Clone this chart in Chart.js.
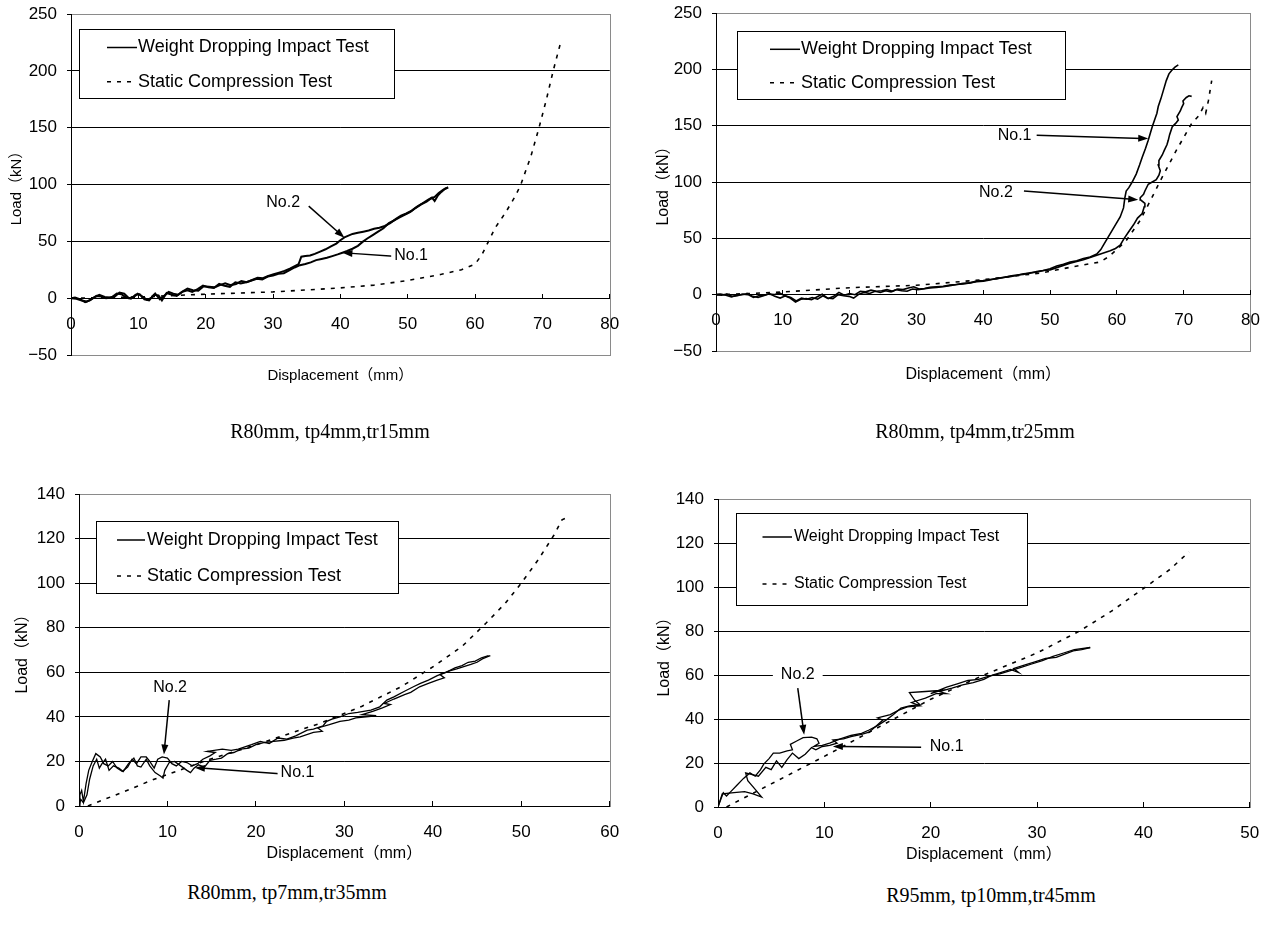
<!DOCTYPE html>
<html>
<head>
<meta charset="utf-8">
<script src="https://cdn.jsdelivr.net/npm/chart.js@4"></script>
<style>
  body { margin: 0; background: #fff; width: 1280px; height: 927px; position: relative; overflow: hidden; }
  .box { position: absolute; }
  .cap { position: absolute; font: 20px 'Liberation Serif', serif; color: #000; transform: translate(-50%, -50%); white-space: nowrap; }
</style>
</head>
<body>
<div class="box" style="left:0;top:0"><canvas id="c1" width="640" height="440"></canvas></div>
<div class="box" style="left:640px;top:0"><canvas id="c2" width="640" height="440"></canvas></div>
<div class="box" style="left:0;top:460px"><canvas id="c3" width="640" height="420"></canvas></div>
<div class="box" style="left:640px;top:460px"><canvas id="c4" width="640" height="420"></canvas></div>
<div class="cap" style="left:330px;top:431px">R80mm, tp4mm,tr15mm</div>
<div class="cap" style="left:975px;top:431px">R80mm, tp4mm,tr25mm</div>
<div class="cap" style="left:287px;top:892px">R80mm, tp7mm,tr35mm</div>
<div class="cap" style="left:991px;top:895px">R95mm, tp10mm,tr45mm</div>
<script>
// axis ranges: [min, max, step]
const p1XAxis = [0, 80, 10];
const p1YAxis = [-50, 250, 50];
const p2XAxis = [0, 80, 10];
const p2YAxis = [-50, 250, 50];
const p3XAxis = [0, 60, 10];
const p3YAxis = [0, 140, 20];
const p4XAxis = [0, 50, 10];
const p4YAxis = [0, 140, 20];

// R80mm, tp4mm, tr15mm
const p1No1X = [0,0.8,1.6,2.3,3.0,3.8,4.5,5.2,6.0,6.8,
  7.5,8.2,8.9,9.6,10.2,10.9,11.6,12.3,13.0,13.5,
  14.2,15.0,15.7,16.5,17.3,18.0,18.8,19.6,20.4,21.2,
  22.0,22.8,23.6,24.4,25.2,26.0,26.8,27.6,28.4,29.2,
  30.0,30.8,31.6,32.4,33.2,34.0,34.8,35.6,36.4,37.2,
  38.0,38.8,39.6,40.3,41.0,41.8,42.6,43.3,44.0,44.8,
  45.6,46.4,47.2,48.0,48.8,49.6,50.4,51.2,52.0,52.8,
  53.4,54.0,54.6,55.2,55.6,56.0];
const p1No1Y = [0,-0.5,-2,-3,-1,2,1.5,0,0.5,4,
  3.5,0.5,-0.5,3,3.5,-1,-2,3,2.5,-2,
  4.5,3,2,5.5,7,5.5,8,11,9.5,9,
  12.5,11,10,14,13,14,15.5,17,16.5,19,
  20,21.5,22,24.5,27,29,30,31.5,33.5,34.5,
  35.5,37,38.5,40,41.5,43.5,46,49.5,52.5,55.5,
  58.5,61.5,66,68.5,71,73.5,76,79.5,82.5,85,
  87.5,89,92.5,95,96.5,97.5];
const p1No2X = [0,0.6,1.4,2.1,2.8,3.5,4.2,5.0,5.7,6.5,
  7.2,7.9,8.6,9.3,9.9,10.6,11.3,12.0,12.5,13.2,
  13.8,14.5,15.2,15.9,16.6,17.3,18.1,18.9,19.7,20.5,
  21.3,22.1,22.9,23.7,24.5,25.3,26.1,26.9,27.7,28.5,
  29.3,30.1,30.9,31.7,32.5,33.3,33.8,34.2,34.8,35.5,
  36.2,37.0,37.8,38.6,39.4,40.0,40.6,41.2,41.8,42.6,
  43.4,44.2,45.0,45.8,46.6,47.4,48.2,49.0,49.8,50.6,
  51.4,52.2,53.0,53.6,54.0,54.5,55.0,55.5,56.0];
const p1No2Y = [0,0.5,-1,-3.5,-2,1,3,1,0.5,1.5,
  5,4,0,1,4,1.5,-1.5,0.5,4,-1,
  2,5.5,4,3,6,8.5,7,6.5,10.5,10,
  9.5,11.5,13,11.5,12.5,15,14,16,18,17.5,
  19.5,21,22.5,24,26,28.5,30,36.5,37,37.5,
  39,41,43,45.5,48,51,53.5,55,56.5,57.5,
  58.5,59.5,61,62,63.5,66,69.5,72.5,74.5,77,
  80.5,83.5,86.5,88.5,85.5,90.5,93.5,96,97.5];
const p1StaticX = [0,10,20,30,40,45,50,55,58,60,61,62,63,64.5,66,66.8,68.3,69.5,70.6,71.6,72.8];
const p1StaticY = [0,1,3.5,5.5,9,11.5,15.5,21,25,30,38,50,62,75,90,100,125,150,175,200,227];

// R80mm, tp4mm, tr25mm
const p2No1X = [0,0.8,1.6,2.4,3.2,4.0,4.8,5.6,6.4,7.2,
  8.0,8.8,9.6,10.4,11.2,12.0,12.8,13.6,14.4,15.2,
  16.0,16.8,17.6,18.4,19.2,20.0,20.8,21.6,22.4,23.2,
  24.0,24.8,25.6,26.4,27.2,28.0,28.8,29.6,30.4,31.2,
  32,33,34,35,36,37,38,39,40,41,
  42,43,44,45,46,47,48,49,50,51,
  52,53,54,55,56,57,57.6,58.1,58.7,59.3,
  59.9,60.5,61.0,61.2,61.4,61.8,62.3,62.9,63.4,63.8,
  64.3,64.7,65.0,65.3,65.7,66.0,66.2,66.6,67.0,67.4,
  67.8,68.2,68.7,69.2];
const p2No1Y = [0,-0.5,0.5,-1.5,-1,0.5,0,-2.5,-1,-0.5,
  1,-1.5,-3,-1,-2.5,-5.5,-3,-4,-2.5,-4,
  -1,-3.5,-1.5,2,-0.5,1,0,3,2.5,4,
  3,3.5,4.5,3,5,4.5,6,7,5,5.5,
  6.5,7,7.5,8.5,9,10,10.5,12,12.5,13.5,
  14,15.5,16,17,18.5,19,20.5,21.5,23,25.5,
  27,29,30,32,33.5,36,40,45,51,57,
  63,69,77,86,92,95,100,107,115,122,
  130,137,143,149,156,161,167,174,182,190,
  196,199,202,204];
const p2No2X = [0,0.7,1.5,2.3,3.1,3.9,4.7,5.5,6.3,7.1,
  7.9,8.7,9.5,10.3,11.1,11.9,12.7,13.5,14.3,15.1,
  15.9,16.7,17.5,18.3,19.1,19.9,20.6,21.4,22.2,23.0,
  23.8,24.6,25.4,26.2,27.0,27.8,28.6,29.4,30.2,31.0,
  32,33,34,35,36,37,38,39,40,41,
  42,43,44,45,46,47,48,49,50,51,
  52,53,54,55,56,57,58,59,59.8,60.5,
  61.1,61.8,62.5,63.1,63.8,64.1,64.2,63.6,63.5,64.0,
  64.2,64.7,65.3,65.9,66.3,66.5,66.2,66.3,66.8,67.1,
  67.5,67.7,67.9,68.3,68.8,69.2,69.0,69.5,69.7,70.0,
  69.9,70.4,70.8,71.2];
const p2No2Y = [0,0.5,-0.5,-2,-0.5,0,1,-1.5,-2.5,-1,
  0.5,0,1.5,-1,-3,-6.5,-4,-3.5,-4.5,-2,
  0.5,-3,-3.5,0,-1,-1.5,-3,0.5,2,1,
  3,2,3.5,2.5,4.5,3.5,3,5,4.5,5,
  6,6.5,7,8,9,9.5,10.5,11.5,12,13,
  14.5,15,16.5,17.5,18,19.5,20,21.5,22,24,
  26,28,29.5,31,33,35,37,39,41,44,
  50,56,62,68,72,78,81,84,86,89,
  92,98,100,102,106,110,115,119,124,128,
  133,137,142,149,152,155,158,163,166,169.5,
  172,175,176.5,176];
const p2StaticX = [0,5,10,20,30,40,48.6,53.3,57.5,58.7,60,61.4,63.5,65.3,66.5,68.9,71.2,72.3,72.9,73.3,73.7,74.2];
const p2StaticY = [0,1,2.4,6.2,8.3,13.3,19.2,24.6,29,33.4,40,48,66,86.7,101,128,152,159,166,161,172,190];

// R80mm, tp7mm, tr35mm
const p3No1X = [0,0.2,0.5,0.9,1.2,1.6,2.0,2.3,2.6,3.0,
  3.4,3.9,4.5,5.0,5.6,6.2,6.6,7.0,7.6,8.0,
  8.6,9.2,9.5,9.7,10.2,10.8,11.5,12.2,12.6,13.0,
  13.5,14.2,14.8,15.5,16.1,16.8,17.5,18.3,19.2,20.0,
  21.0,22.0,23.2,24.2,25.0,26.5,27.5,27.0,28.3,29.5,
  30.5,31.3,33.6,32.0,33.2,34.3,35.2,34.5,35.6,36.8,
  37.5,38.5,39.5,40.5,41.3,40.8,41.8,42.7,43.5,44.3,
  45.0,45.6,46.2,46.5];
const p3No1Y = [0,3,1.5,5,12,18,21,17,19,21,
  16,18,17,15.5,19,21.5,18,17.5,21,18,
  15,13.5,12.5,16,19.5,20,18,16,15,17,
  18.5,17.5,20.5,21,21.5,23.5,24,25.5,26,27.5,
  28.5,29,29.5,30.5,31,33,33.5,35,36.5,38,
  38.5,39.5,40.5,41,42.5,44,45.5,46,48,50,
  51,53.5,55,56.5,57.5,59,60.5,61.5,62.5,63.5,
  64.5,66,67,67.5];
const p3No2X = [0,0.1,0.3,0.5,0.8,1.1,1.5,1.9,2.4,2.8,
  3.3,3.8,4.3,4.9,5.5,6.0,6.5,7.0,7.6,8.0,
  8.5,8.9,9.4,10.0,10.5,11.0,11.6,12.2,12.8,13.4,
  14.0,14.8,15.4,14.5,16.2,17.2,18.0,19.5,20.5,21.5,
  22.5,23.5,24.5,25.8,26.5,27.6,28.0,28.6,29.5,30.5,
  31.5,33.0,34.0,34.8,35.6,36.8,37.8,38.6,39.5,40.5,
  41.5,42.5,43.3,44.0,44.8,45.5,46.3];
const p3No2Y = [0,5,7,2,10,16,20,23.5,22,19,
  18,20,17,15.5,17.5,21,19,22,22,20,
  17,21,22,21.5,19,18,20,19.5,18,19,
  21,22.5,24,24.5,25.5,25,25.5,27.5,29,28,
  30.5,30,31.5,34,34.5,36,38,39,40,41.5,
  42,43,44.5,47.5,49,51.5,53.5,55,56.5,58.5,
  60,62,63,64.5,65,66.5,67.5];
const p3StaticX = [1,4.8,8.5,11.6,14.8,18.4,22.9,27.4,32,36.5,40.1,43.3,46,48.2,50,51.9,53.7,54.6,55.5];
const p3StaticY = [0,6,12,16.4,21,25.4,31.3,37.3,44.8,53.7,62.7,71.6,82,91,100,110.4,121.6,128.4,130];

// R95mm, tp10mm, tr45mm
const p4No1X = [0,0.2,0.4,1.5,2.5,3.3,4.1,3.5,2.8,2.6,
  3.8,4.5,5.0,5.5,6.0,6.5,7.0,7.6,8.2,8.8,
  9.2,9.8,10.5,11.2,10.8,11.8,12.5,13.5,14.2,14.8,
  15.5,15.0,16.2,17.0,17.8,19.0,18.2,19.5,20.5,21.5,
  20.8,22.0,23.0,24.0,25.0,25.8,26.5,27.5,28.3,27.8,
  28.8,29.8,30.8,31.8,32.6,33.4,34.2,35.0];
const p4No1Y = [0,3,6,6.5,7,6,4.5,8,12,15.5,
  14,18,17,21,18,21.5,24.5,22,24,27,
  26,27.5,28,29,30.5,31,32,33,34,36.5,
  39.5,40.5,42,44,45.5,46,47.5,49.5,51.5,51.5,
  52.5,54,55.5,56.5,58,60,61,62.5,61,63,
  64.5,66,67.5,68,69.5,71,71.5,72.5];
const p4No2X = [0,0.3,0.5,0.8,1.2,1.8,2.4,3.0,3.5,4.0,
  4.3,4.8,5.2,5.8,6.5,7.0,6.8,7.4,8.0,8.8,
  9.3,9.5,9.0,9.8,10.5,11.5,12.5,13.5,14.2,15.0,
  15.8,16.5,17.2,18.0,19.0,18.5,18.0,19.5,21.0,20.0,
  21.5,22.5,23.5,24.5,25.5,26.5,27.5,28.5,29.5,30.5,
  31.5,32.5,33.5,35.0];
const p4No2Y = [0,4,6.5,5,7,10,13,15.5,14,17,
  19.5,22,24.5,24.5,25.5,26,28.5,30,31.5,31.8,
  31,29,27.5,28,29,31,32.5,33.5,35,37,
  39.5,42,45,46,46.5,48.5,52,52.5,53,51.5,
  54.5,56,57.5,58,59.5,60.5,62,63.5,65,66.5,
  68.5,70,71.5,72.5];
const p4StaticX = [0.8,5,10,15,20,25,30,34,37,40.2,42.5,44.3];
const p4StaticY = [0,10.5,23,36,49,60,70,80,89,100,108,116];

const FONT = "'Liberation Sans', 'Noto Sans CJK JP', sans-serif";

function pts(xs, ys) {
  return xs.map((x, i) => ({ x: x, y: ys[i] }));
}

function drawArrow(c, x1, y1, x2, y2) {
  const a = Math.atan2(y2 - y1, x2 - x1);
  const cs = Math.cos(a), sn = Math.sin(a);
  c.beginPath();
  c.moveTo(x1, y1);
  c.lineTo(x2 - 6 * cs, y2 - 6 * sn);
  c.stroke();
  c.beginPath();
  c.moveTo(x2, y2);
  c.lineTo(x2 - 10 * cs + 3.5 * sn, y2 - 10 * sn - 3.5 * cs);
  c.lineTo(x2 - 10 * cs - 3.5 * sn, y2 - 10 * sn + 3.5 * cs);
  c.closePath();
  c.fill();
}

function makeChart(p) {
  const framePlugin = {
    id: 'frame',
    beforeDraw(chart) {
      const a = chart.chartArea, c = chart.ctx;
      c.save();
      c.strokeStyle = '#8a8a8a';
      c.lineWidth = 1;
      c.strokeRect(Math.round(a.left) + 0.5, Math.round(a.top) + 0.5,
        Math.round(a.right - a.left), Math.round(a.bottom - a.top));
      c.restore();
    }
  };
  const legendPlugin = {
    id: 'boxLegend',
    beforeDatasetsDraw(chart) {
      const L = p.legend, c = chart.ctx;
      const items = [chart.data.datasets[0], chart.data.datasets[2]];
      c.save();
      c.fillStyle = '#fff';
      c.fillRect(L.x, L.y, L.w, L.h);
      c.strokeStyle = '#000';
      c.lineWidth = 1;
      c.strokeRect(L.x + 0.5, L.y + 0.5, L.w, L.h);
      items.forEach((ds, i) => {
        const yy = L.rows[i];
        c.setLineDash(ds.borderDash || []);
        c.lineWidth = 1.5;
        c.beginPath();
        c.moveTo(L.x1, yy);
        c.lineTo(L.x2, yy);
        c.stroke();
        c.setLineDash([]);
        c.fillStyle = '#000';
        c.font = L.size + 'px ' + FONT;
        c.textBaseline = 'middle';
        c.textAlign = 'left';
        c.fillText(ds.label, L.tx, yy);
      });
      c.restore();
    }
  };
  const notePlugin = {
    id: 'notes',
    afterDatasetsDraw(chart) {
      const sx = chart.scales.x, sy = chart.scales.y, c = chart.ctx;
      c.save();
      c.strokeStyle = '#000';
      c.fillStyle = '#000';
      c.lineWidth = 1.5;
      c.font = '16px ' + FONT;
      c.textAlign = 'center';
      c.textBaseline = 'middle';
      p.notes.forEach(n => {
        drawArrow(c, sx.getPixelForValue(n.a[0]), sy.getPixelForValue(n.a[1]),
          sx.getPixelForValue(n.a[2]), sy.getPixelForValue(n.a[3]));
        const tx = sx.getPixelForValue(n.t[0]), ty = sy.getPixelForValue(n.t[1]);
        const w = c.measureText(n.text).width + 2 * n.bg;
        c.fillStyle = '#fff';
        c.fillRect(tx - w / 2, ty - 9, w, 18);
        c.fillStyle = '#000';
        c.fillText(n.text, tx, ty);
      });
      c.restore();
    }
  };

  const lineDs = (label, data, w) => ({
    label: label, data: data, showLine: true, borderColor: '#000', borderWidth: w,
    pointRadius: 0, tension: 0, fill: false
  });
  const statDs = lineDs('Static Compression Test', pts(p.sx, p.sy), 1.6);
  statDs.borderDash = [4, 6];

  return new Chart(document.getElementById(p.id), {
    type: 'scatter',
    data: {
      datasets: [
        lineDs('Weight Dropping Impact Test', pts(p.n1x, p.n1y), p.lw),
        lineDs('Weight Dropping Impact Test', pts(p.n2x, p.n2y), p.lw),
        statDs
      ]
    },
    options: {
      responsive: false,
      animation: false,
      devicePixelRatio: 1,
      layout: { padding: p.pad },
      plugins: { legend: { display: false }, tooltip: { enabled: false } },
      scales: {
        x: {
          type: 'linear',
          position: p.xAtZero ? { y: 0 } : 'bottom',
          min: p.xr[0], max: p.xr[1],
          ticks: { stepSize: p.xr[2], autoSkip: false, maxRotation: 0, padding: p.xPad,
            color: '#000', font: { family: FONT, size: 17 } },
          grid: { drawOnChartArea: false, tickLength: -5, color: '#000' },
          border: { color: '#000' },
          title: { display: true, text: 'Displacement（mm）', color: '#000',
            font: { family: FONT, size: p.ts }, padding: 0 },
          afterFit(s) { s.height = p.xh; }
        },
        y: {
          type: 'linear',
          min: p.yr[0], max: p.yr[1],
          ticks: { stepSize: p.yr[2], padding: 10, color: '#000', font: { family: FONT, size: 17 },
            callback: v => String(v).replace('-', '\u2212') },
          grid: {
            color: ctx => (ctx.tick && (ctx.tick.value === p.yr[0] || ctx.tick.value === p.yr[1])) ? '#8a8a8a' : '#000',
            tickColor: '#000', tickLength: 4
          },
          border: { color: '#000' },
          title: { display: true, text: 'Load（kN）', color: '#000',
            font: { family: FONT, size: p.ts }, padding: { top: p.ytp, bottom: 0 } },
          afterFit(s) {
            s.width = p.yw;
            s.paddingTop = 0;
            s.paddingBottom = 0;
          }
        }
      }
    },
    plugins: [framePlugin, legendPlugin, notePlugin]
  });
}

makeChart({
  id: 'c1', n1x: p1No1X, n1y: p1No1Y, n2x: p1No2X, n2y: p1No2Y, sx: p1StaticX, sy: p1StaticY,
  xr: p1XAxis, yr: p1YAxis, xAtZero: true, lw: 2,
  pad: { left: 0, top: 14, right: 26, bottom: 85 }, yw: 71, xh: 87, xPad: 20.8, ts: 15, ytp: 8,
  legend: { x: 79, y: 29, w: 315, h: 69, x1: 107, x2: 137, tx: 138, rows: [47.5, 81.7], size: 18 },
  notes: [
    { text: 'No.2', t: [31.5, 84], a: [35.3, 81, 40.6, 53.2], bg: 3 },
    { text: 'No.1', t: [50.5, 37.6], a: [47.9, 36.8, 40.3, 40], bg: 3 }
  ]
});
makeChart({
  id: 'c2', n1x: p2No1X, n1y: p2No1Y, n2x: p2No2X, n2y: p2No2Y, sx: p2StaticX, sy: p2StaticY,
  xr: p2XAxis, yr: p2YAxis, xAtZero: true, lw: 1.6,
  pad: { left: 0, top: 13, right: 16, bottom: 89 }, yw: 76, xh: 89.9, xPad: 20.1, ts: 16, ytp: 14,
  legend: { x: 97, y: 31, w: 328, h: 68, x1: 130, x2: 160, tx: 161, rows: [49.3, 82.7], size: 18 },
  notes: [
    { text: 'No.1', t: [44.7, 141.4], a: [48, 141.4, 64.7, 138.5], bg: 3 },
    { text: 'No.2', t: [41.9, 90.2], a: [46.1, 92, 63.2, 84.3], bg: 3 }
  ]
});
makeChart({
  id: 'c3', n1x: p3No1X, n1y: p3No1Y, n2x: p3No2X, n2y: p3No2Y, sx: p3StaticX, sy: p3StaticY,
  xr: p3XAxis, yr: p3YAxis, xAtZero: false, lw: 1.3,
  pad: { left: 0, top: 34, right: 19, bottom: 16.4 }, yw: 79, xh: 57.6, xPad: 20.8, ts: 16, ytp: 13,
  legend: { x: 96, y: 61, w: 302, h: 72, x1: 117, x2: 145, tx: 147, rows: [80, 116], size: 18 },
  notes: [
    { text: 'No.2', t: [10.3, 53], a: [10.2, 47.5, 9.6, 23.1], bg: 3 },
    { text: 'No.1', t: [24.7, 14.9], a: [22.7, 14.5, 13.1, 17.2], bg: 3 }
  ]
});
makeChart({
  id: 'c4', n1x: p4No1X, n1y: p4No1Y, n2x: p4No2X, n2y: p4No2Y, sx: p4StaticX, sy: p4StaticY,
  xr: p4XAxis, yr: p4YAxis, xAtZero: false, lw: 1.3,
  pad: { left: 0, top: 39, right: 20, bottom: 15.4 }, yw: 78, xh: 57.6, xPad: 20.8, ts: 16, ytp: 15,
  legend: { x: 96, y: 53, w: 291, h: 92, x1: 122.5, x2: 152, tx: 154, rows: [77, 124], size: 16 },
  notes: [
    { text: 'No.2', t: [7.5, 60], a: [7.5, 54, 8.1, 32.8], bg: 8 },
    { text: 'No.1', t: [21.5, 27.5], a: [19.1, 27.2, 10.8, 27.5], bg: 3 }
  ]
});
</script>
</body>
</html>
